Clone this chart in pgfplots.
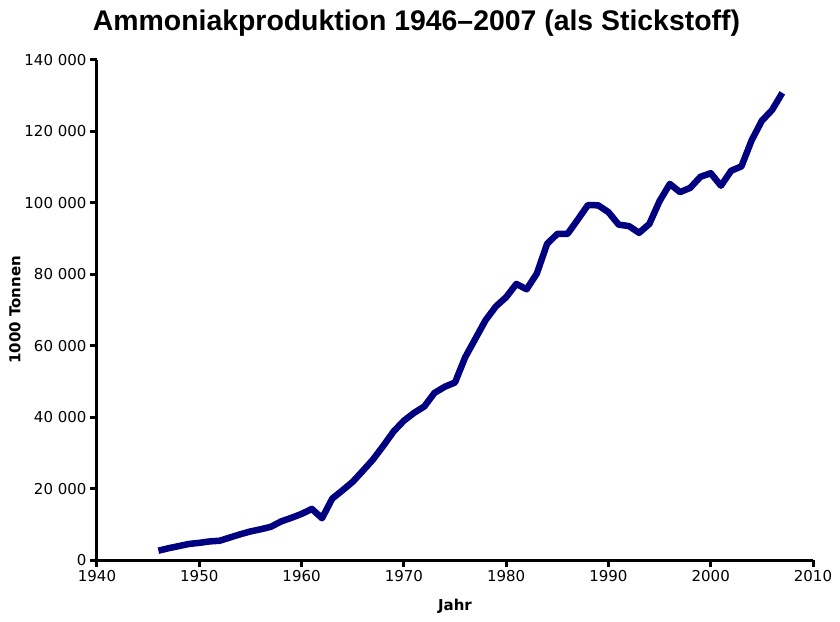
\documentclass[border=0pt]{standalone}
\usepackage{fontspec}
\setmainfont{DejaVu Sans}
\newfontfamily\titlefont{Liberation Sans}
\usepackage{pgfplots}
\pgfplotsset{compat=1.18}
\definecolor{linenavy}{RGB}{0,0,128}

\begin{document}
\begin{tikzpicture}
\begin{axis}[
    scale only axis,
    width=716bp, height=500bp,
    at={(0,0)}, anchor=south west,
    xmin=1940, xmax=2010,
    ymin=0, ymax=140000,
    xtick={1940,1950,1960,1970,1980,1990,2000,2010},
    xticklabels={1940,1950,1960,1970,1980,1990,2000,2010},
    ytick={0,20000,40000,60000,80000,100000,120000,140000},
    yticklabels={0,20 000,40 000,60 000,80 000,100 000,120 000,140 000},
    axis lines=left,
    axis line style={-, line width=3bp, black},
    every tick/.style={line width=3bp, black},
    tick align=outside,
    major tick length=7bp,
    ticklabel style={font=\fontsize{15bp}{18bp}\selectfont},
    scaled y ticks=false,
    xlabel={Jahr},
    ylabel={1000 Tonnen},
    every axis x label/.style={at={(axis description cs:0.5,0)}, anchor=center, yshift=-46bp, font=\bfseries\fontsize{15bp}{18bp}\selectfont},
    every axis y label/.style={at={(axis description cs:0,0.5)}, rotate=90, anchor=center, yshift=82bp, font=\bfseries\fontsize{15bp}{18bp}\selectfont},
    clip=false,
]
\addplot[color=linenavy, line width=6.5bp, line join=round, line cap=butt] coordinates {
    (1946,2600)(1947,3300)(1948,3900)(1949,4500)(1950,4800)(1951,5200)(1952,5400)
    (1953,6300)(1954,7200)(1955,8000)(1956,8600)(1957,9300)(1958,10800)(1959,11800)
    (1960,12900)(1961,14300)(1962,11700)(1963,17200)(1964,19500)(1965,21900)
    (1966,25000)(1967,28200)(1968,32000)(1969,36000)(1970,39000)(1971,41200)
    (1972,43000)(1973,46800)(1974,48500)(1975,49700)(1976,56800)(1977,62000)
    (1978,67200)(1979,71000)(1980,73600)(1981,77300)(1982,75800)(1983,80200)
    (1984,88500)(1985,91300)(1986,91300)(1987,95300)(1988,99400)(1989,99300)
    (1990,97400)(1991,93900)(1992,93500)(1993,91600)(1994,94100)(1995,100500)
    (1996,105300)(1997,103000)(1998,104200)(1999,107300)(2000,108300)(2001,104800)
    (2002,109000)(2003,110200)(2004,117500)(2005,123000)(2006,126000)(2007,130800)
};
\end{axis}
\node[font=\titlefont\bfseries\fontsize{28.4bp}{32bp}\selectfont, anchor=center] at (319.5bp,537bp) {Ammoniakproduktion 1946–2007 (als Stickstoff)};
\path (-97bp,-62bp) rectangle (743bp,560bp);
\end{tikzpicture}
\end{document}
